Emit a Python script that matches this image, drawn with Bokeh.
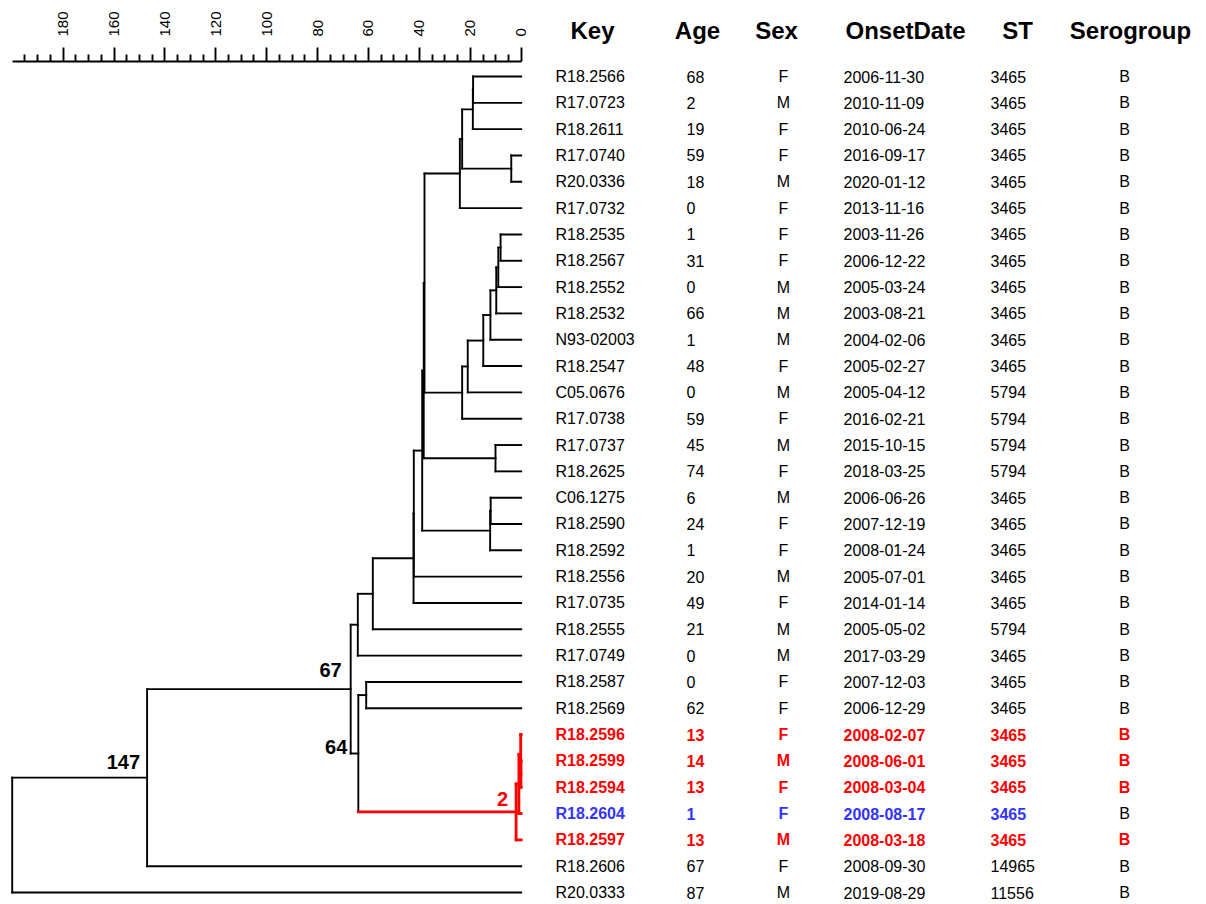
from bokeh.plotting import figure
from bokeh.models import Range1d, LinearAxis, FixedTicker, ColumnDataSource
from bokeh.layouts import row
from bokeh.embed import file_html
from bokeh.resources import INLINE
from bokeh.core.properties import value

# ---- isolate metadata (tip order, top to bottom) ----
keys = ["R18.2566", "R17.0723", "R18.2611", "R17.0740", "R20.0336", "R17.0732",
        "R18.2535", "R18.2567", "R18.2552", "R18.2532", "N93-02003", "R18.2547",
        "C05.0676", "R17.0738", "R17.0737", "R18.2625", "C06.1275", "R18.2590",
        "R18.2592", "R18.2556", "R17.0735", "R18.2555", "R17.0749", "R18.2587",
        "R18.2569", "R18.2596", "R18.2599", "R18.2594", "R18.2604", "R18.2597",
        "R18.2606", "R20.0333"]
ages = [68, 2, 19, 59, 18, 0, 1, 31, 0, 66, 1, 48, 0, 59, 45, 74, 6, 24, 1, 20,
        49, 21, 0, 0, 62, 13, 14, 13, 1, 13, 67, 87]
sexes = ["F", "M", "F", "F", "M", "F", "F", "F", "M", "M", "M", "F", "M", "F", "M", "F",
         "M", "F", "F", "M", "F", "M", "M", "F", "F", "F", "M", "F", "F", "M", "F", "M"]
onset_dates = ["2006-11-30", "2010-11-09", "2010-06-24", "2016-09-17", "2020-01-12",
               "2013-11-16", "2003-11-26", "2006-12-22", "2005-03-24", "2003-08-21",
               "2004-02-06", "2005-02-27", "2005-04-12", "2016-02-21", "2015-10-15",
               "2018-03-25", "2006-06-26", "2007-12-19", "2008-01-24", "2005-07-01",
               "2014-01-14", "2005-05-02", "2017-03-29", "2007-12-03", "2006-12-29",
               "2008-02-07", "2008-06-01", "2008-03-04", "2008-08-17", "2008-03-18",
               "2008-09-30", "2019-08-29"]
sequence_types = [3465, 3465, 3465, 3465, 3465, 3465, 3465, 3465, 3465, 3465, 3465, 3465,
                  5794, 5794, 5794, 5794, 3465, 3465, 3465, 3465, 3465, 5794, 3465, 3465,
                  3465, 3465, 3465, 3465, 3465, 3465, 14965, 11556]
serogroups = ["B"] * 32
# cluster membership used for highlighting rows
highlight = [None] * 25 + ["cluster", "cluster", "cluster", "linked", "cluster", None, None]

# ---- dendrogram: internal nodes (children, height) ----
node_names = ["n01", "n02", "n03", "n04", "n05", "n06", "n07", "n08", "n09", "n10",
              "n11", "n12", "n13", "n14", "n15", "n16", "n17", "n18", "n19", "n20",
              "n21", "n22", "n23", "n24", "n25", "n26", "n27", "n28", "n29", "n30", "n31"]
node_kids = [("R18.2566", "R17.0723"), ("n01", "R18.2611"), ("R17.0740", "R20.0336"),
             ("n02", "n03"), ("n04", "R17.0732"),
             ("R18.2535", "R18.2567"), ("n06", "R18.2552"), ("n07", "R18.2532"),
             ("n08", "N93-02003"), ("n09", "R18.2547"), ("n10", "C05.0676"),
             ("n11", "R17.0738"), ("n05", "n12"),
             ("R17.0737", "R18.2625"), ("n13", "n14"),
             ("C06.1275", "R18.2590"), ("n16", "R18.2592"), ("n15", "n17"),
             ("n18", "R18.2556"), ("n19", "R17.0735"), ("n20", "R18.2555"),
             ("n21", "R17.0749"),
             ("R18.2587", "R18.2569"),
             ("R18.2599", "R18.2594"), ("R18.2596", "n24"), ("n25", "R18.2604"),
             ("n26", "R18.2597"),
             ("n23", "n27"), ("n22", "n28"), ("n29", "R18.2606"), ("n30", "R20.0333")]
node_heights = [18.9, 19.0, 3.9, 23.2, 24.1,
                8.1, 9.0, 9.8, 12.1, 14.9, 21.0, 23.2, 38.0,
                10.1, 38.3, 12.0, 12.2, 38.9, 42.2, 42.3, 58.3, 64.2,
                60.9, 0.1, 0.2, 0.9, 2, 64, 67, 147, 200]
node_labels = {"n30": "147", "n29": "67", "n28": "64", "n27": "2"}
highlight_clade = "n27"

axis_major = list(range(0, 181, 20))
axis_minor = [v for v in range(5, 200, 5) if v % 20]

RED = "#FF0000"
BLUE = "#3333FF"
FONT = "Liberation Sans"

# ---- layout of the tree ----
height = {k: 0.0 for k in keys}
ypos = {k: float(i) for i, k in enumerate(keys)}
kids = {}
for name, ch, h in zip(node_names, node_kids, node_heights):
    height[name] = h
    kids[name] = ch
    ypos[name] = sum(ypos[c] for c in ch) / len(ch)

red_nodes = set()
stack = [highlight_clade]
while stack:
    n = stack.pop()
    red_nodes.add(n)
    stack.extend(kids.get(n, ()))

seg = {"black": dict(x0=[], y0=[], x1=[], y1=[]), "red": dict(x0=[], y0=[], x1=[], y1=[])}
for name in node_names:
    ch = kids[name]
    ys = [ypos[c] for c in ch]
    s = seg["red" if name in red_nodes else "black"]
    s["x0"].append(height[name]); s["x1"].append(height[name])
    s["y0"].append(min(ys)); s["y1"].append(max(ys))
    for c in ch:
        s = seg["red" if c in red_nodes else "black"]
        s["x0"].append(height[name]); s["x1"].append(height[c])
        s["y0"].append(ypos[c]); s["y1"].append(ypos[c])

W_TREE, W_TAB, H, TOP = 545, 661, 904, 61
rows_range = Range1d(31.455, -0.570)

tree = figure(width=W_TREE, height=H, x_range=Range1d(204.6, -9.55),
              y_range=rows_range, output_backend="svg",
              toolbar_location=None, x_axis_location=None, y_axis_location=None,
              min_border_left=0, min_border_right=0, min_border_bottom=0,
              min_border_top=TOP, outline_line_color=None)
tree.xgrid.visible = False
tree.ygrid.visible = False

tree.segment(x0="x0", y0="y0", x1="x1", y1="y1", source=ColumnDataSource(seg["black"]),
             line_color="black", line_width=1.9, line_cap="square")
tree.segment(x0="x0", y0="y0", x1="x1", y1="y1", source=ColumnDataSource(seg["red"]),
             line_color=RED, line_width=2.8, line_cap="square")

lab_nodes = list(node_labels)
lab_src = ColumnDataSource(dict(
    x=[height[n] for n in lab_nodes], y=[ypos[n] for n in lab_nodes],
    text=[node_labels[n] for n in lab_nodes],
    color=[RED if n in red_nodes else "black" for n in lab_nodes],
    dx=[-7, -9, -11, -8], dy=[-16, -19, -7, -13]))
tree.text(x="x", y="y", text="text", source=lab_src, text_color="color",
          x_offset="dx", y_offset="dy", text_align="right", text_baseline="middle",
          text_font=value(FONT), text_font_style="bold", text_font_size="20px")

axis = LinearAxis(ticker=FixedTicker(ticks=axis_major, minor_ticks=axis_minor),
                  bounds=(0, 200), major_tick_in=0, major_tick_out=14,
                  minor_tick_in=0, minor_tick_out=7, major_label_orientation="vertical",
                  major_label_standoff=11, axis_line_width=1.9,
                  major_tick_line_width=1.9, minor_tick_line_width=1.9,
                  major_label_text_font=FONT, major_label_text_font_size="15px",
                  major_label_text_color="black")
tree.add_layout(axis, "above")

# ---- metadata table ----
table = figure(width=W_TAB, height=H, x_range=Range1d(0, W_TAB),
               y_range=rows_range, output_backend="svg",
               toolbar_location=None, x_axis_location=None, y_axis_location=None,
               min_border_left=0, min_border_right=0, min_border_bottom=0,
               min_border_top=TOP, outline_line_color=None)
table.xgrid.visible = False
table.ygrid.visible = False

headers = ["Key", "Age", "Sex", "OnsetDate", "ST", "Serogroup"]
header_x = [47, 152, 231, 360, 472, 585]
col_x = [10, 141, 238, 298, 445, 579]
col_align = ["left", "left", "center", "left", "left", "center"]

# column headings sit in the band above the rows
head_axis = LinearAxis(ticker=FixedTicker(ticks=header_x, minor_ticks=[]),
                       major_label_overrides={x: h for x, h in zip(header_x, headers)},
                       axis_line_color=None, major_tick_line_color=None,
                       minor_tick_line_color=None, major_tick_out=0, major_tick_in=0,
                       major_label_standoff=18, major_label_text_font=FONT,
                       major_label_text_font_style="bold",
                       major_label_text_font_size="24px",
                       major_label_text_color="black")
table.add_layout(head_axis, "above")

rows = list(range(len(keys)))
colors = [RED if h == "cluster" else BLUE if h == "linked" else "black" for h in highlight]
styles = ["bold" if h else "normal" for h in highlight]
columns = [keys, [str(a) for a in ages], sexes, onset_dates,
           [str(s) for s in sequence_types], serogroups]
for ci, (vals, cx, al) in enumerate(zip(columns, col_x, col_align)):
    if ci == 5:
        ccol = [RED if h == "cluster" else "black" for h in highlight]
        csty = ["bold" if h == "cluster" else "normal" for h in highlight]
    else:
        ccol, csty = colors, styles
    src = ColumnDataSource(dict(x=[cx] * len(vals), y=rows, text=vals,
                                color=ccol, style=csty))
    table.text(x="x", y="y", text="text", source=src, text_color="color",
               text_font_style="style", text_align=al, text_baseline="middle",
               text_font=value(FONT), text_font_size="16px")

layout = row(tree, table)
open("out.html", "w").write(file_html(layout, INLINE))
